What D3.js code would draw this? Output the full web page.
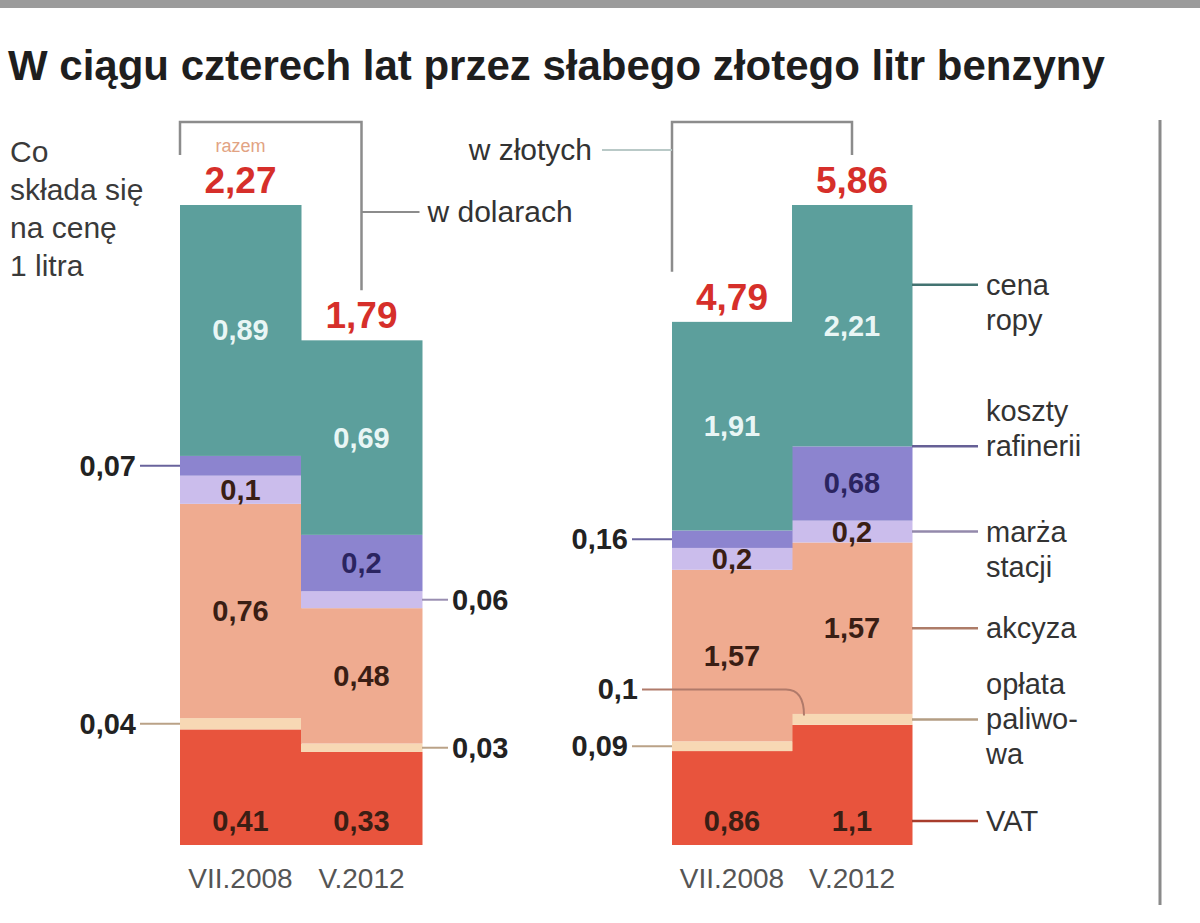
<!DOCTYPE html>
<html>
<head>
<meta charset="utf-8">
<script src="https://cdn.jsdelivr.net/npm/d3@7"></script>
<style>
  body { margin: 0; background: #fff; }
  svg { display: block; }
</style>
</head>
<body>
<div id="chart"></div>
<script>
// ----------------------------------------
// DATA (bottom of the bar to the top)
// ----------------------------------------
const periods = ["VII.2008", "V.2012"];
const components = ["VAT", "opłata paliwowa", "akcyza", "marża stacji", "koszty rafinerii", "cena ropy"];
const componentLines = [["VAT"], ["opłata", "paliwo-", "wa"], ["akcyza"], ["marża", "stacji"], ["koszty", "rafinerii"], ["cena", "ropy"]];

const usd2008 = [0.41, 0.04, 0.76, 0.1, 0.07, 0.89];
const usd2012 = [0.33, 0.03, 0.48, 0.06, 0.2, 0.69];
const pln2008 = [0.86, 0.09, 1.57, 0.2, 0.16, 1.91];
const pln2012 = [1.1, 0.1, 1.57, 0.2, 0.68, 2.21];

const totalsUsd = [2.27, 1.79];
const totalsPln = [4.79, 5.86];

const colors = ["#e8543d", "#f7d8b4", "#efab90", "#cbbdec", "#8c84cf", "#5c9f9c"];

// where the legend leader hits each segment (share of its height from the top)
// and which line of the wrapped name sits on the leader
const legendAt = [0.8, 0.5, 0.5, 0.5, 0.0, 0.33];
const legendLine = [0, 1, 0, 0, 1, 0];

// ----------------------------------------
// SVG SETUP
// ----------------------------------------
const W = 1200, H = 923;
const FONT = "'Liberation Sans', Arial, sans-serif";
const baseY = 845, topY = 205;

const svg = d3.select("#chart")
  .append("svg")
  .attr("width", W)
  .attr("height", H)
  .style("font-family", FONT);

svg.append("rect")
  .attr("x", 0).attr("y", 0)
  .attr("width", W).attr("height", 8)
  .attr("fill", "#9b9b9b");

svg.append("text")
  .attr("x", 8)
  .attr("y", 80)
  .attr("fill", "#1e1e1e")
  .style("font-size", "42px")
  .style("font-weight", "bold")
  .text("W ciągu czterech lat przez słabego złotego litr benzyny");

const intro = svg.append("text")
  .attr("fill", "#3a3a3a")
  .style("font-size", "30px");
["Co", "składa się", "na cenę", "1 litra"].forEach((t, i) => {
  intro.append("tspan").attr("x", 10).attr("y", 162 + i * 38).text(t);
});

// right separator
svg.append("line")
  .attr("x1", 1160).attr("x2", 1160)
  .attr("y1", 120).attr("y2", 905)
  .attr("stroke", "#8a8a8a")
  .attr("stroke-width", 3);

const fmt = v => String(v).replace(".", ",");

// ----------------------------------------
// PANEL
// ----------------------------------------
function drawPanel(cfg) {
  const g = svg.append("g");

  const x = d3.scaleBand().domain(periods).range([cfg.x0, cfg.x1]).padding(0);
  const rows = periods.map((p, i) => {
    const r = { period: p };
    components.forEach((c, k) => r[c] = cfg.series[i][k]);
    return r;
  });
  const y = d3.scaleLinear()
    .domain([0, d3.max(rows, r => d3.sum(components, c => r[c]))])
    .range([baseY, topY]);

  const stacked = d3.stack().keys(components)(rows);

  g.selectAll("g.layer")
    .data(stacked)
    .join("g")
    .attr("class", "layer")
    .attr("fill", (d, i) => colors[i])
    .selectAll("rect")
    .data(d => d)
    .join("rect")
    .attr("x", d => x(d.data.period))
    .attr("y", d => y(d[1]))
    .attr("width", x.bandwidth() + 0.5)
    .attr("height", d => y(d[0]) - y(d[1]));

  // value labels
  stacked.forEach((layer, k) => {
    layer.forEach((d, i) => {
      const p = periods[i];
      const v = cfg.series[i][k];
      const mid = y((d[0] + d[1]) / 2);
      const co = cfg.callouts[`${i}-${k}`];
      if (!co) {
        const ty = k === 0 ? y(d[0]) - 14 : mid + 10;
        g.append("text")
          .attr("x", x(p) + x.bandwidth() / 2)
          .attr("y", ty)
          .attr("text-anchor", "middle")
          .attr("fill", k === 5 ? "#e9f6f5" : (k === 4 ? "#2b2460" : "#3a1e14"))
          .style("font-size", "29px")
          .style("font-weight", "bold")
          .text(fmt(v));
      } else if (co === "left") {
        g.append("line")
          .attr("x1", x(p) - 40).attr("x2", x(p))
          .attr("y1", mid).attr("y2", mid)
          .attr("stroke", d3.color(colors[k]).darker(0.8))
          .attr("stroke-width", 2);
        g.append("text")
          .attr("x", x(p) - 44)
          .attr("y", mid + 10)
          .attr("text-anchor", "end")
          .attr("fill", "#222")
          .style("font-size", "29px")
          .style("font-weight", "bold")
          .text(fmt(v));
      } else if (co === "right") {
        const xr = x(p) + x.bandwidth();
        g.append("line")
          .attr("x1", xr).attr("x2", xr + 26)
          .attr("y1", mid).attr("y2", mid)
          .attr("stroke", d3.color(colors[k]).darker(0.8))
          .attr("stroke-width", 2);
        g.append("text")
          .attr("x", xr + 30)
          .attr("y", mid + 10)
          .attr("fill", "#222")
          .style("font-size", "29px")
          .style("font-weight", "bold")
          .text(fmt(v));
      } else if (co === "curve") {
        const xb = x(p) + 12;
        const ly = mid - 30;
        g.append("path")
          .attr("d", `M${x(periods[0]) - 30},${ly} H${xb - 18} Q${xb},${ly} ${xb},${mid - 4}`)
          .attr("fill", "none")
          .attr("stroke", "#b07a6a")
          .attr("stroke-width", 2);
        g.append("text")
          .attr("x", x(periods[0]) - 34)
          .attr("y", ly + 10)
          .attr("text-anchor", "end")
          .attr("fill", "#222")
          .style("font-size", "29px")
          .style("font-weight", "bold")
          .text(fmt(v));
      }
    });
  });

  // totals
  const tops = periods.map((p, i) => y(d3.sum(cfg.series[i])));
  periods.forEach((p, i) => {
    g.append("text")
      .attr("x", x(p) + x.bandwidth() / 2)
      .attr("y", tops[i] - 12)
      .attr("text-anchor", "middle")
      .attr("fill", "#d62f2a")
      .style("font-size", "37px")
      .style("font-weight", "bold")
      .text(fmt(cfg.totals[i]));
  });

  // bracket linking the two totals
  const bx1 = x(periods[0]);
  const bx2 = x(periods[1]) + x.bandwidth() / 2;
  g.append("path")
    .attr("d", `M${bx1},${tops[0] - 50} V122 H${bx2} V${tops[1] - 50}`)
    .attr("fill", "none")
    .attr("stroke", "#8c8c8c")
    .attr("stroke-width", 2.5);

  if (cfg.bracketSide === "right") {
    g.append("line")
      .attr("x1", bx2).attr("x2", bx2 + 58)
      .attr("y1", cfg.bracketY).attr("y2", cfg.bracketY)
      .attr("stroke", "#8c8c8c").attr("stroke-width", 2);
    g.append("text")
      .attr("x", bx2 + 66).attr("y", cfg.bracketY + 10)
      .attr("fill", "#333")
      .style("font-size", "30px")
      .text(cfg.bracketLabel);
  } else {
    g.append("line")
      .attr("x1", bx1 - 70).attr("x2", bx1)
      .attr("y1", cfg.bracketY).attr("y2", cfg.bracketY)
      .attr("stroke", "#b9c9c7").attr("stroke-width", 2);
    g.append("text")
      .attr("x", bx1 - 80).attr("y", cfg.bracketY + 10)
      .attr("text-anchor", "end")
      .attr("fill", "#333")
      .style("font-size", "30px")
      .text(cfg.bracketLabel);
  }

  if (cfg.note) {
    g.append("text")
      .attr("x", x(periods[0]) + x.bandwidth() / 2)
      .attr("y", 152)
      .attr("text-anchor", "middle")
      .attr("fill", "#e2a383")
      .style("font-size", "18px")
      .text(cfg.note);
  }

  // period axis
  const ax = g.append("g")
    .attr("transform", `translate(0,${baseY + 12})`)
    .call(d3.axisBottom(x).tickSize(0));
  ax.select(".domain").remove();
  ax.selectAll("text")
    .attr("dy", "1em")
    .attr("fill", "#555")
    .style("font-family", FONT)
    .style("font-size", "28px");

  // legend on the right of the last bar
  if (cfg.legend) {
    const xr = x(periods[1]) + x.bandwidth();
    stacked.forEach((layer, k) => {
      const d = layer[1];
      const ly = y(d[1]) + (y(d[0]) - y(d[1])) * legendAt[k];
      const lines = componentLines[k];
      g.append("line")
        .attr("x1", xr).attr("x2", xr + 66)
        .attr("y1", ly).attr("y2", ly)
        .attr("stroke", d3.color(colors[k]).darker(0.9))
        .attr("stroke-width", 2.5);
      const t = g.append("text")
        .attr("fill", "#333")
        .style("font-size", "29px");
      lines.forEach((l, j) => {
        t.append("tspan")
          .attr("x", xr + 74)
          .attr("y", ly + 10 + (j - legendLine[k]) * 35)
          .text(l);
      });
    });
  }
}

drawPanel({
  x0: 180, x1: 422,
  series: [usd2008, usd2012],
  totals: totalsUsd,
  callouts: { "0-4": "left", "0-1": "left", "1-3": "right", "1-1": "right" },
  bracketSide: "right", bracketY: 212, bracketLabel: "w dolarach",
  note: "razem",
  legend: false
});

drawPanel({
  x0: 672, x1: 912,
  series: [pln2008, pln2012],
  totals: totalsPln,
  callouts: { "0-4": "left", "0-1": "left", "1-1": "curve" },
  bracketSide: "left", bracketY: 150, bracketLabel: "w złotych",
  legend: true
});
</script>
</body>
</html>
